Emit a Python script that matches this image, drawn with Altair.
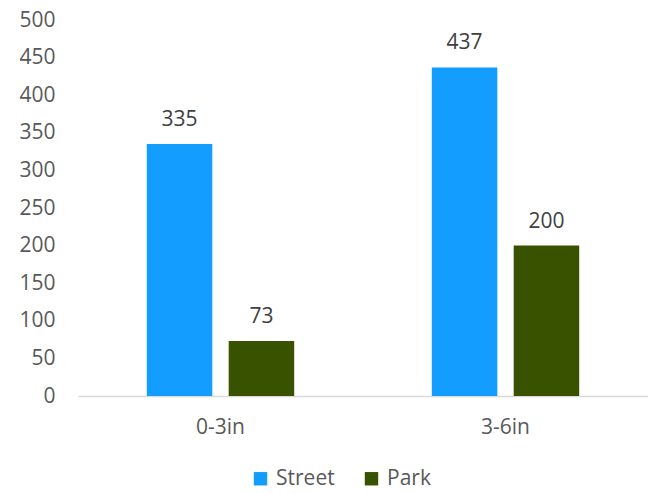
import altair as alt
import pandas as pd

categories = ["0-3in", "0-3in", "3-6in", "3-6in"]
series = ["Street", "Park", "Street", "Park"]
values = [335, 73, 437, 200]
y_ticks = [0, 50, 100, 150, 200, 250, 300, 350, 400, 450, 500]

df = pd.DataFrame({"cat": categories, "series": series, "value": values})

FONT = "Open Sans"
TXT = "#595959"
FS = 21

base = alt.Chart(df).encode(
    x=alt.X("cat:N", title=None,
            scale=alt.Scale(paddingInner=0, paddingOuter=0),
            axis=alt.Axis(labelAngle=0, ticks=False, domainColor="#D9D9D9", domainWidth=1.5,
                          labelFontSize=FS, labelColor=TXT, labelFont=FONT, labelPadding=20)),
    xOffset=alt.XOffset("series:N", sort=["Street", "Park"],
                        scale=alt.Scale(paddingInner=0.2, paddingOuter=0.84)),
    y=alt.Y("value:Q", title=None,
            scale=alt.Scale(domain=[0, 500]),
            axis=alt.Axis(values=y_ticks, grid=False, domain=False, ticks=False,
                          labelOverlap=False,
                          labelFontSize=FS, labelColor=TXT, labelFont=FONT, labelPadding=23)),
)

bars = base.mark_bar().encode(
    color=alt.Color("series:N", sort=["Street", "Park"], title=None,
                    scale=alt.Scale(domain=["Street", "Park"], range=["#129DFF", "#385200"]),
                    legend=alt.Legend(orient="none", legendX=172, legendY=448, direction="horizontal",
                                      symbolType="square", symbolSize=180, symbolStrokeWidth=0,
                                      labelFontSize=FS, labelColor=TXT, labelFont=FONT,
                                      columnPadding=26, labelOffset=5)),
)

labels = base.mark_text(dy=-14, baseline="bottom", fontSize=FS, color="#404040", font=FONT).encode(
    text="value:Q",
)

chart = (bars + labels).properties(
    width=570, height=376,
    autosize=alt.AutoSizeParams(type="none"),
    padding={"left": 78, "top": 20, "right": 0, "bottom": 98},
).configure_view(stroke=None)

chart.save("out.html", embed_options={"renderer": "svg", "actions": False})
